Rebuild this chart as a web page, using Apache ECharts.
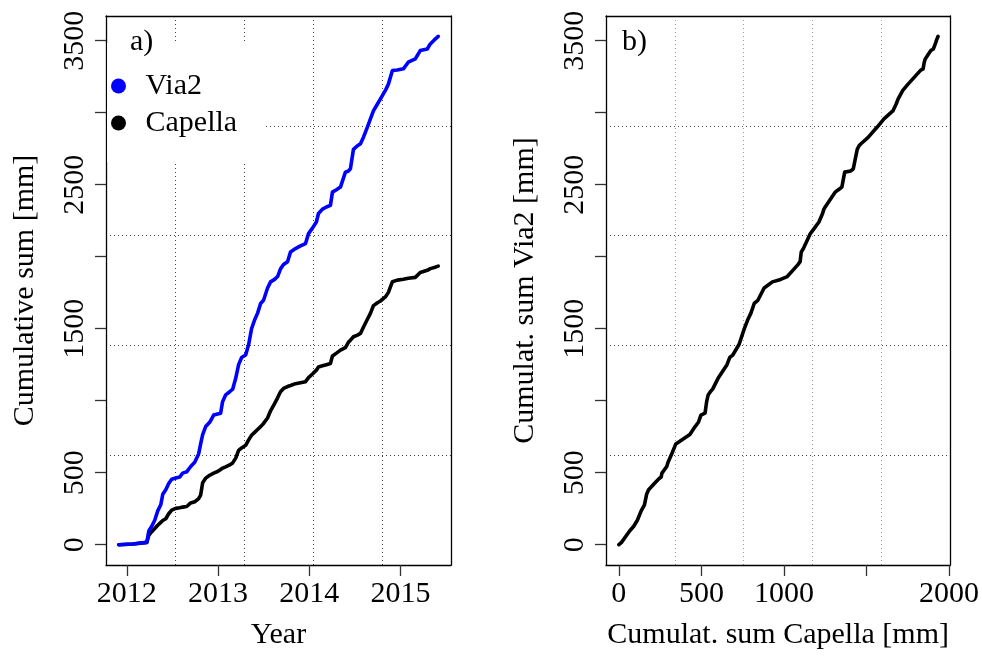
<!DOCTYPE html>
<html>
<head>
<meta charset="utf-8">
<script src="https://cdn.jsdelivr.net/npm/echarts@6/dist/echarts.min.js"></script>
<style>html,body{margin:0;padding:0;background:#fff}#c{width:982px;height:656px}</style>
</head>
<body>
<div id="c"></div>
<script>
// ---- data ----
const years = [2011.912,2012.066,2012.219,2012.241,2012.273,2012.306,2012.339,2012.372,2012.394,2012.427,2012.459,2012.492,2012.536,2012.580,2012.612,2012.656,2012.700,2012.744,2012.787,2012.809,2012.831,2012.864,2012.908,2012.952,2012.995,2013.028,2013.050,2013.083,2013.127,2013.160,2013.193,2013.225,2013.258,2013.302,2013.335,2013.367,2013.400,2013.433,2013.466,2013.498,2013.542,2013.575,2013.619,2013.652,2013.684,2013.717,2013.761,2013.794,2013.848,2013.903,2013.958,2013.991,2014.034,2014.077,2014.100,2014.144,2014.187,2014.231,2014.253,2014.297,2014.341,2014.395,2014.428,2014.450,2014.483,2014.527,2014.560,2014.592,2014.636,2014.669,2014.702,2014.746,2014.779,2014.833,2014.866,2014.910,2014.964,2015.030,2015.084,2015.161,2015.215,2015.292,2015.325,2015.369,2015.412];
const via2 = [0,5,16,95,128,170,235,277,350,381,425,455,463,470,497,506,543,572,630,700,765,820,850,900,908,913,995,1040,1062,1080,1155,1250,1300,1317,1390,1500,1560,1608,1675,1697,1782,1825,1842,1862,1915,1945,1965,2033,2056,2075,2091,2160,2198,2241,2300,2330,2345,2356,2448,2465,2483,2587,2595,2610,2745,2770,2784,2828,2900,2957,3012,3060,3096,3154,3198,3292,3296,3304,3350,3373,3431,3442,3477,3505,3530];
const capella = [0,5,16,65,90,112,135,155,168,180,215,240,252,256,261,265,290,298,320,345,430,462,482,497,508,522,532,541,554,568,601,655,672,690,728,760,780,800,820,842,880,930,980,1020,1062,1085,1098,1105,1118,1125,1132,1160,1185,1212,1234,1242,1250,1258,1310,1330,1351,1368,1405,1420,1444,1455,1467,1510,1565,1606,1660,1680,1692,1720,1752,1826,1837,1843,1850,1856,1890,1905,1917,1925,1934];

const yearTicks = [2012, 2013, 2014, 2015];
const sumTicks = [0, 500, 1000, 1500, 2000, 2500, 3000, 3500];
const sumLabels = [0, 500, 1500, 2500, 3500];
const capTicks = [0, 500, 1000, 1500, 2000];
const capLabels = [0, 500, 1000, 2000];

const panelLabels = ['a)', 'b)'];
const seriesNames = ['Via2', 'Capella'];
const xNames = ['Year', 'Cumulat. sum Capella [mm]'];
const yNames = ['Cumulative sum [mm]', 'Cumulat. sum Via2 [mm]'];

// ---- styling ----
const FONT = 'Liberation Serif';
const FS = 30;
const BLUE = '#0000ff';
const BLACK = '#000000';
const gridLineDark = {type: [1, 3], color: '#444', width: 1};
const gridLineLight = {type: [1, 3], color: '#999', width: 1};

function mainAxisCommon(ticks, labels) {
  return {
    type: 'value',
    axisLine: {show: true, onZero: false, lineStyle: {color: '#000', width: 1.3}},
    axisTick: {show: true, inside: false, length: 11, customValues: ticks, lineStyle: {color: '#333', width: 1.3}},
    axisLabel: {show: true, customValues: labels, formatter: (v) => String(v), color: '#000', fontFamily: FONT, fontSize: FS},
    splitLine: {show: false},
    nameLocation: 'middle',
    nameTextStyle: {color: '#000', fontFamily: FONT, fontSize: FS},
  };
}
function helperAxis(gridIndex, position, lineStyle) {
  return {
    type: 'value', gridIndex, position, min: 0, max: 5, interval: 1,
    axisLine: {show: true, onZero: false, lineStyle: {color: '#000', width: 1.3}},
    axisTick: {show: false}, axisLabel: {show: false},
    splitLine: {show: true, showMinLine: false, showMaxLine: false, lineStyle},
  };
}

const xAxis = [
  Object.assign(mainAxisCommon(yearTicks, yearTicks), {
    gridIndex: 0, position: 'bottom', min: 2011.772, max: 2015.552,
    name: xNames[0], nameGap: 55,
  }),
  helperAxis(0, 'top', gridLineDark),
  Object.assign(mainAxisCommon(capTicks, capLabels), {
    gridIndex: 1, position: 'bottom', min: -78, max: 2008,
    name: xNames[1], nameGap: 55,
  }),
  helperAxis(1, 'top', gridLineLight),
];
xAxis[0].axisLabel.margin = 14;
xAxis[2].axisLabel.margin = 14;

const yAxis = [
  Object.assign(mainAxisCommon(sumTicks, sumLabels), {
    gridIndex: 0, position: 'left', min: -141, max: 3671,
    name: yNames[0], nameGap: 66,
  }),
  helperAxis(0, 'right', gridLineDark),
  Object.assign(mainAxisCommon(sumTicks, sumLabels), {
    gridIndex: 1, position: 'left', min: -141, max: 3671,
    name: yNames[1], nameGap: 66,
  }),
  helperAxis(1, 'right', gridLineDark),
];
yAxis[0].axisLabel.rotate = 90; yAxis[0].axisLabel.margin = 16;
yAxis[2].axisLabel.rotate = 90; yAxis[2].axisLabel.margin = 16;

const lineStyle = (c) => ({color: c, width: 3.6, join: 'round', cap: 'round'});

const option = {
  animation: false,
  backgroundColor: '#fff',
  title: [
    {text: panelLabels[0], left: 130, top: 27, padding: 0, textStyle: {fontFamily: FONT, fontSize: FS, fontWeight: 'normal', color: '#000'}},
    {text: panelLabels[1], left: 622, top: 27, padding: 0, textStyle: {fontFamily: FONT, fontSize: FS, fontWeight: 'normal', color: '#000'}},
  ],
  legend: {
    data: [seriesNames[0], seriesNames[1]],
    orient: 'vertical', left: 107, top: 43,
    padding: [28, 27, 24, 4],
    backgroundColor: '#fff',
    icon: 'circle', itemWidth: 44, itemHeight: 15, itemGap: 7,
    textStyle: {fontFamily: FONT, fontSize: FS, color: '#000', lineHeight: 30},
    selectedMode: false,
  },
  grid: [
    {left: 106, top: 16, width: 345, height: 549, containLabel: false},
    {left: 606, top: 16, width: 345, height: 549, containLabel: false},
  ],
  xAxis, yAxis,
  series: [
    {name: seriesNames[1], type: 'line', xAxisIndex: 0, yAxisIndex: 0, showSymbol: false, symbol: 'circle', itemStyle: {color: BLACK},
     lineStyle: lineStyle(BLACK), data: years.map((t, i) => [t, capella[i]]), z: 3},
    {name: seriesNames[0], type: 'line', xAxisIndex: 0, yAxisIndex: 0, showSymbol: false, symbol: 'circle', itemStyle: {color: BLUE},
     lineStyle: lineStyle(BLUE), data: years.map((t, i) => [t, via2[i]]), z: 4},
    {name: 'Via2 vs Capella', type: 'line', xAxisIndex: 2, yAxisIndex: 2, showSymbol: false, itemStyle: {color: BLACK},
     lineStyle: lineStyle(BLACK), data: capella.map((c, i) => [c, via2[i]]), z: 3},
  ],
};

const chart = echarts.init(document.getElementById('c'), null, {renderer: 'canvas'});
chart.setOption(option);
</script>
</body>
</html>
